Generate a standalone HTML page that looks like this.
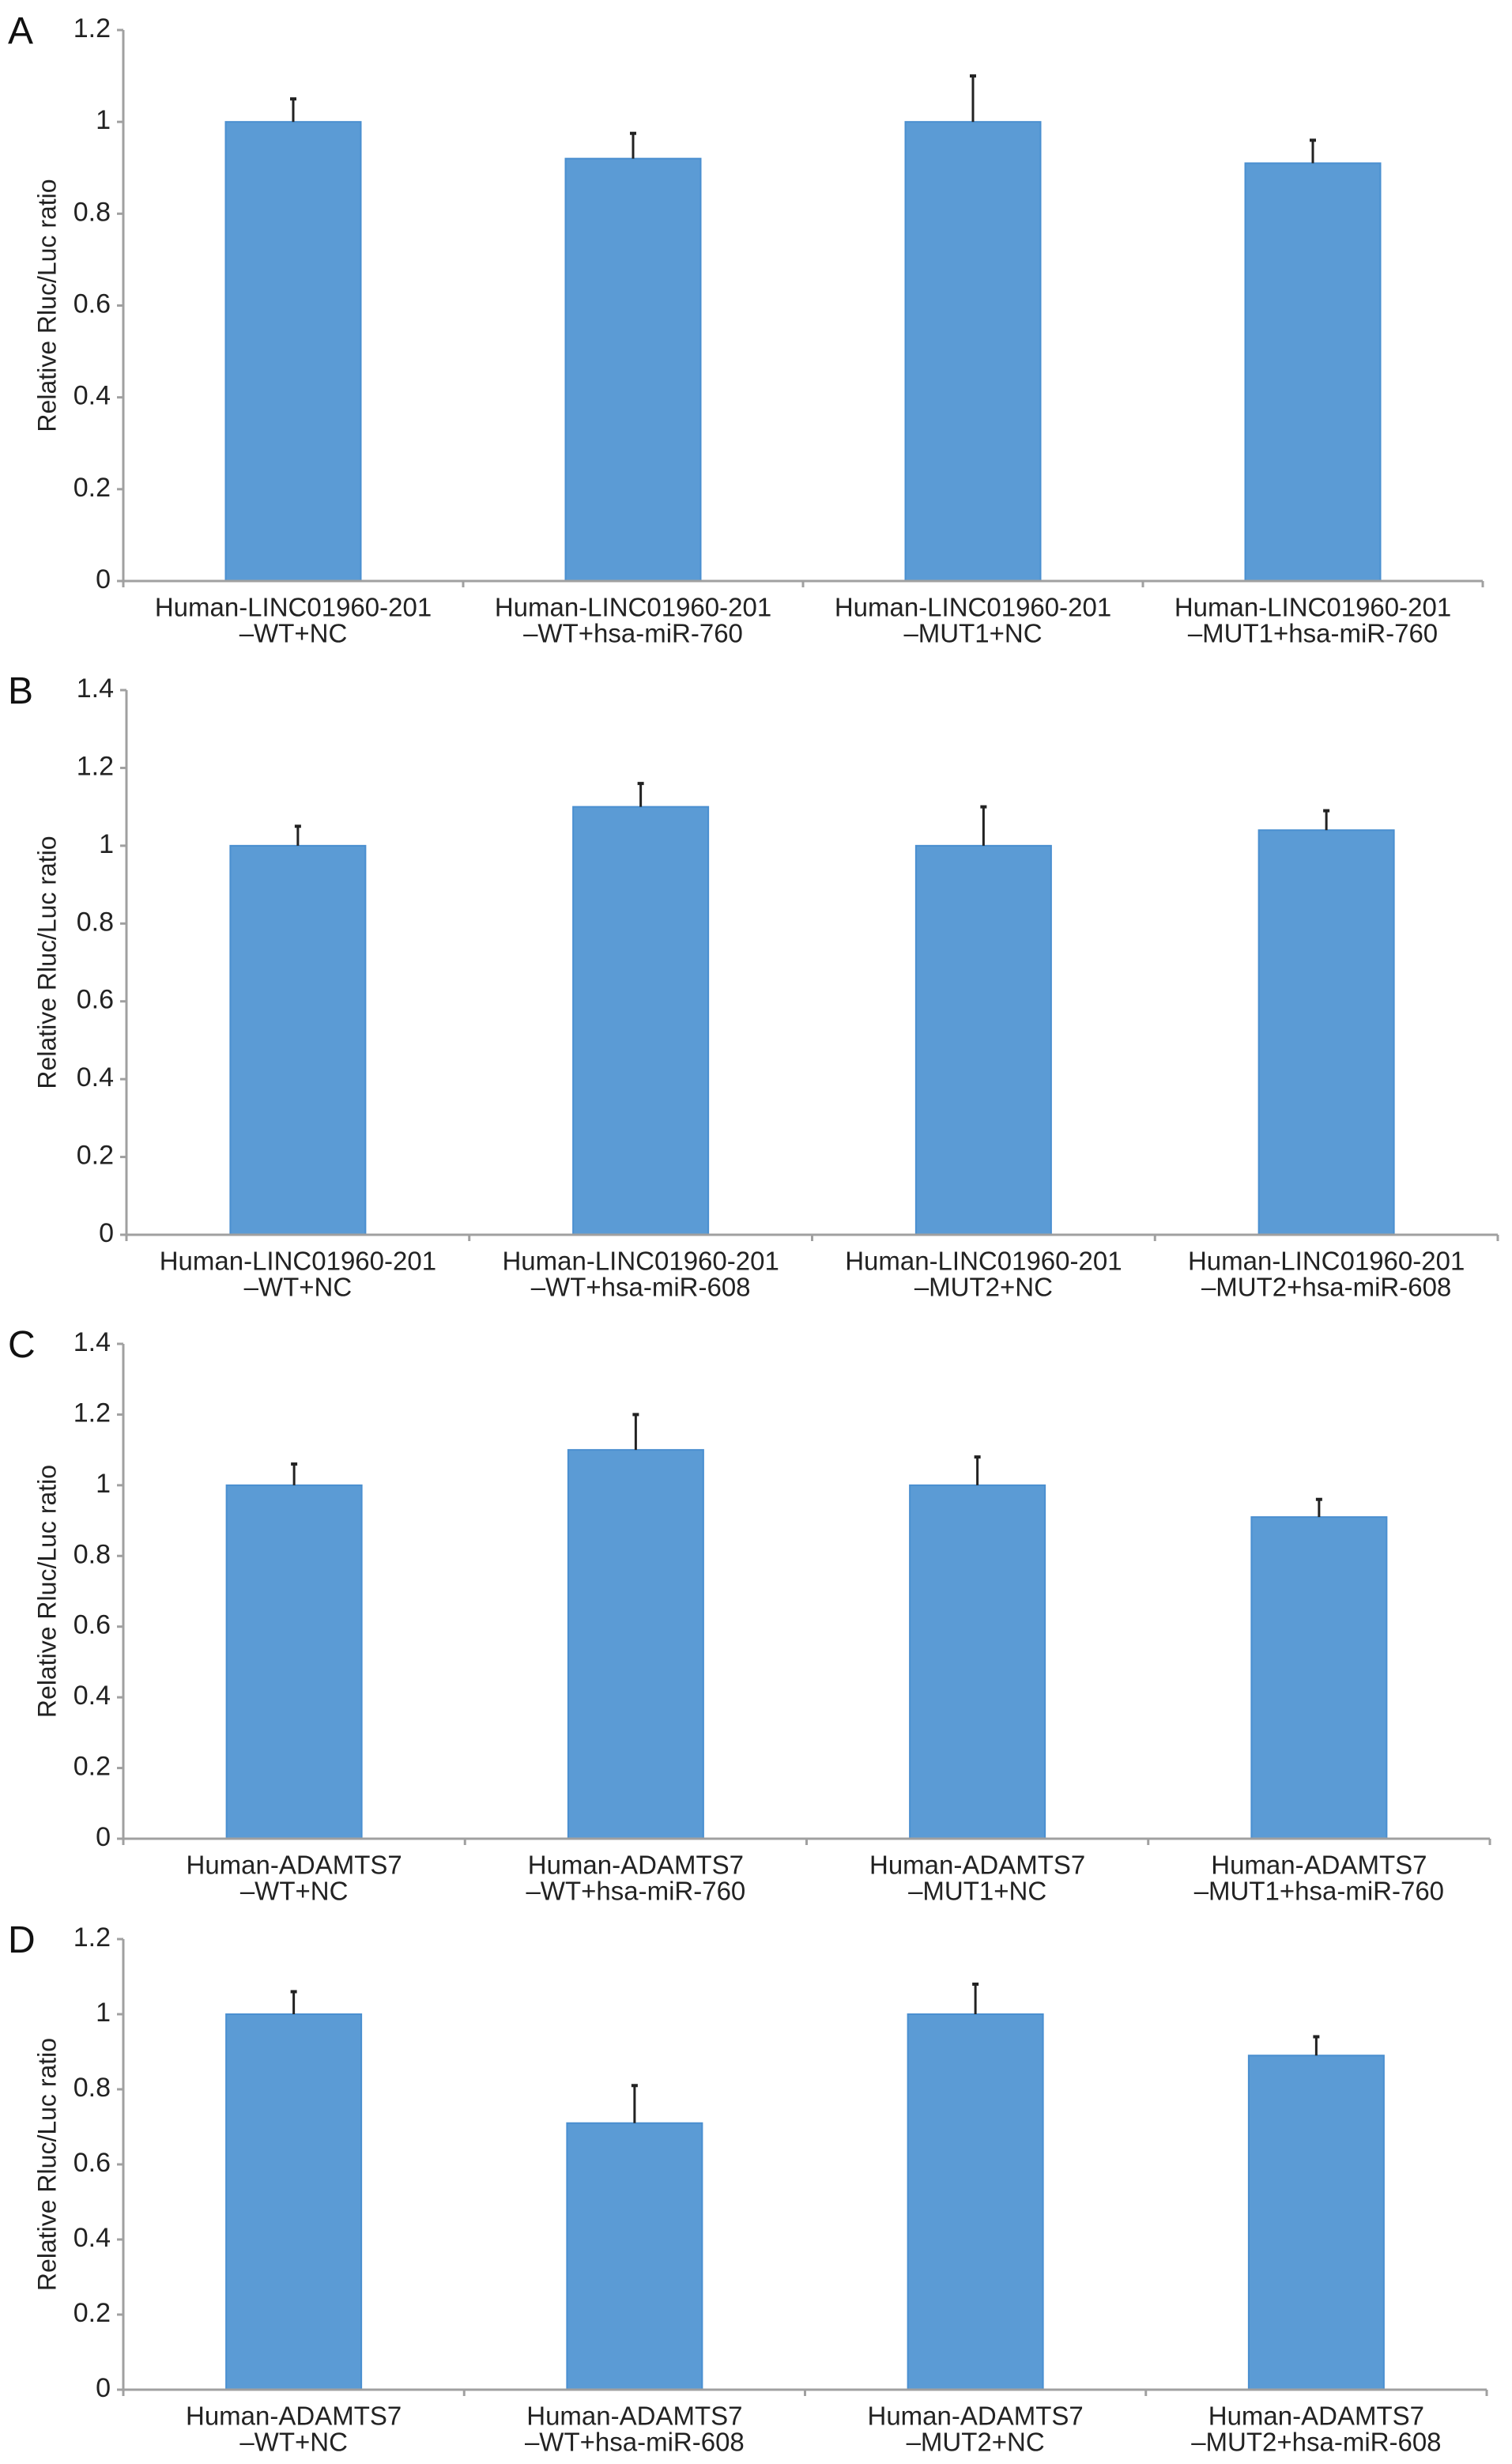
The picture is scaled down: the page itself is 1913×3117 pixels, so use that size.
<!DOCTYPE html>
<html><head><meta charset="utf-8"><style>
html,body{margin:0;padding:0;background:#fff}
svg{display:block;font-family:"Liberation Sans",Arial,sans-serif}
</style></head><body>
<svg id="fig" width="1913" height="3117" viewBox="0 0 1913 3117" xmlns="http://www.w3.org/2000/svg"></svg>
<script>
// Panel A data
const aCategories = [["Human-LINC01960-201","\u2013WT+NC"],["Human-LINC01960-201","\u2013WT+hsa-miR-760"],["Human-LINC01960-201","\u2013MUT1+NC"],["Human-LINC01960-201","\u2013MUT1+hsa-miR-760"]];
const aValues = [1.0, 0.92, 1.0, 0.91];
const aErrors = [0.05, 0.055, 0.10, 0.05];
const aTicks = ["0","0.2","0.4","0.6","0.8","1","1.2"];
// Panel B data
const bCategories = [["Human-LINC01960-201","\u2013WT+NC"],["Human-LINC01960-201","\u2013WT+hsa-miR-608"],["Human-LINC01960-201","\u2013MUT2+NC"],["Human-LINC01960-201","\u2013MUT2+hsa-miR-608"]];
const bValues = [1.0, 1.10, 1.0, 1.04];
const bErrors = [0.05, 0.06, 0.10, 0.05];
const bTicks = ["0","0.2","0.4","0.6","0.8","1","1.2","1.4"];
// Panel C data
const cCategories = [["Human-ADAMTS7","\u2013WT+NC"],["Human-ADAMTS7","\u2013WT+hsa-miR-760"],["Human-ADAMTS7","\u2013MUT1+NC"],["Human-ADAMTS7","\u2013MUT1+hsa-miR-760"]];
const cValues = [1.0, 1.10, 1.0, 0.91];
const cErrors = [0.06, 0.10, 0.08, 0.05];
const cTicks = ["0","0.2","0.4","0.6","0.8","1","1.2","1.4"];
// Panel D data
const dCategories = [["Human-ADAMTS7","\u2013WT+NC"],["Human-ADAMTS7","\u2013WT+hsa-miR-608"],["Human-ADAMTS7","\u2013MUT2+NC"],["Human-ADAMTS7","\u2013MUT2+hsa-miR-608"]];
const dValues = [1.0, 0.71, 1.0, 0.89];
const dErrors = [0.06, 0.10, 0.08, 0.05];
const dTicks = ["0","0.2","0.4","0.6","0.8","1","1.2"];

const NS = "http://www.w3.org/2000/svg";
const svg = document.getElementById('fig');
function mk(tag, attrs, parent){
  const e = document.createElementNS(NS, tag);
  for (const k in attrs) e.setAttribute(k, attrs[k]);
  (parent||svg).appendChild(e);
  return e;
}
function panel(letter, cats, vals, errs, ticks, L){
  const g = mk('g', {});
  
  
  const maxV = parseFloat(ticks[ticks.length-1]);
  const y = v => L.zero - (v/maxV)*(L.zero - L.top);
  const gw = (L.right - L.axisX)/cats.length;
  const x = i => L.axisX + gw*(i+0.5);
  const lt = mk('text', {x:10, y:L.top+17, 'font-size':48, fill:'#111'}, g);
  lt.textContent = letter;
  
  
  const ya = mk('line', {x1:L.axisX, y1:L.top, x2:L.axisX, y2:L.zero, stroke:'#a0a0a0', 'stroke-width':3}, g);
  
  
  ticks.forEach(t => {
    const yy = y(parseFloat(t));
    mk('line', {x1:L.axisX-8, y1:yy, x2:L.axisX, y2:yy, stroke:'#a0a0a0', 'stroke-width':3}, g);
    const tx = mk('text', {x:L.axisX-16, y:yy, 'font-size':34, fill:'#222', 'text-anchor':'end', 'dominant-baseline':'middle'}, g);
    tx.textContent = t;
    
    
  });
  const yt = mk('text', {x:0, y:0, 'font-size':32, fill:'#222', 'text-anchor':'middle', 'dominant-baseline':'middle', transform:'translate(62,' + ((L.top+L.zero)/2) + ') rotate(-90)'}, g);
  yt.textContent = 'Relative Rluc/Luc ratio';
  
  
  vals.forEach((v, i) => {
    const bw = 171;
    const b = mk('rect', {x:x(i)-bw/2, y:y(v), width:bw, height:L.zero-y(v), fill:'#5b9bd5', stroke:'#4a8fd0', 'stroke-width':2}, g);
    
    
    const e = mk('line', {x1:x(i), y1:y(v), x2:x(i), y2:y(v+errs[i]), stroke:'#222', 'stroke-width':3}, g);
    
    
    mk('line', {x1:x(i)-4, y1:y(v+errs[i]), x2:x(i)+4, y2:y(v+errs[i]), stroke:'#222', 'stroke-width':4}, g);
  });
  const xa = mk('line', {x1:L.axisX, y1:L.zero, x2:L.right, y2:L.zero, stroke:'#a0a0a0', 'stroke-width':3}, g);
  
  
  for (let i = 0; i <= cats.length; i++) {
    const xx = L.axisX + gw*i;
    mk('line', {x1:xx, y1:L.zero, x2:xx, y2:L.zero+8, stroke:'#a0a0a0', 'stroke-width':3}, g);
  }
  cats.forEach((c, i) => {
    c.forEach((line, j) => {
      const t = mk('text', {x:x(i), y:L.zero+36+j*33, 'font-size':33, fill:'#222', 'text-anchor':'middle', 'dominant-baseline':'middle'}, g);
      t.textContent = line;
      
      
    });
  });
}
panel('A', aCategories, aValues, aErrors, aTicks, {top:38, zero:735, axisX:156, right:1876});
panel('B', bCategories, bValues, bErrors, bTicks, {top:873, zero:1562, axisX:160, right:1895});
panel('C', cCategories, cValues, cErrors, cTicks, {top:1700, zero:2326, axisX:156, right:1885});
panel('D', dCategories, dValues, dErrors, dTicks, {top:2453, zero:3023, axisX:156, right:1881});
</script>
</body></html>
